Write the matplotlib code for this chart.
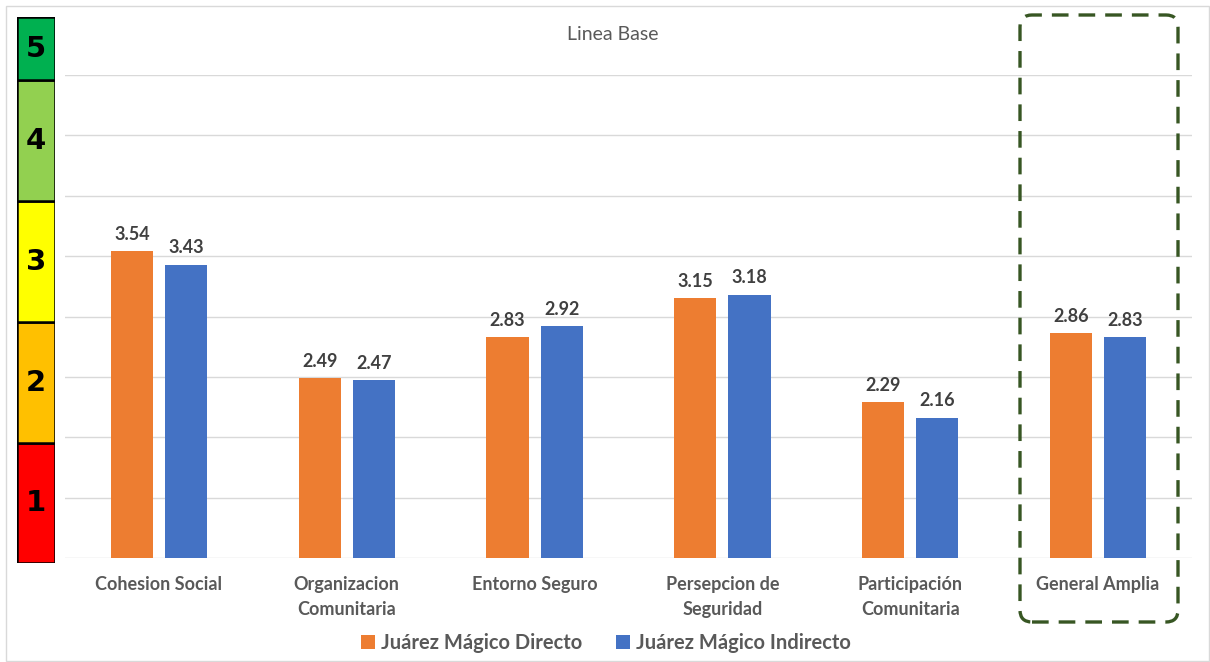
import matplotlib.pyplot as plt
import numpy as np
from matplotlib.patches import FancyBboxPatch, Rectangle

plt.rcParams['font.family'] = ['Lato', 'DejaVu Sans']

categories = ['Cohesion Social', 'Organizacion\nComunitaria', 'Entorno Seguro',
              'Persepcion de\nSeguridad', 'Participación\nComunitaria', 'General Amplia']
directo = [3.54, 2.49, 2.83, 3.15, 2.29, 2.86]
indirecto = [3.43, 2.47, 2.92, 3.18, 2.16, 2.83]
series_names = ['Juárez Mágico Directo', 'Juárez Mágico Indirecto']

scale_levels = ['1', '2', '3', '4', '5']
scale_colors = ['#FF0000', '#FFC000', '#FFFF00', '#92D050', '#00B050']

W, H = 1210, 662
fig = plt.figure(figsize=(W / 100, H / 100), dpi=100)

# outer frame
fig.patches.append(Rectangle((6 / W, 1 / H), (W - 7) / W, (H - 7) / H, transform=fig.transFigure,
                             fill=False, edgecolor='#D9D9D9', lw=1))

# main bar chart
ax = fig.add_axes([65 / W, (H - 558) / H, (1192 - 65) / W, (558 - 75) / H])
index = np.arange(len(categories))
w = 0.224
off = 0.144
b1 = ax.bar(index - off, np.array(directo) - 1, w, bottom=1, color='#ED7D31', label=series_names[0], zorder=3)
b2 = ax.bar(index + off, np.array(indirecto) - 1, w, bottom=1, color='#4472C4', label=series_names[1], zorder=3)
for bars, vals in ((b1, directo), (b2, indirecto)):
    for rect, v in zip(bars, vals):
        ax.text(rect.get_x() + rect.get_width() / 2, v + 0.07, '%.2f' % v, ha='center', va='bottom',
                fontsize=13, fontweight='bold', color='#404040')
ax.set_xlim(-0.5, len(categories) - 0.5)
ax.set_ylim(1, 5)
ax.set_yticks(np.arange(1, 5.01, 0.5))
ax.set_yticklabels([])
ax.grid(axis='y', color='#D9D9D9', lw=1, zorder=0)
ax.set_xticks(index)
ax.set_xticklabels(categories, fontsize=13, fontweight='bold', color='#595959', linespacing=1.55)
ax.tick_params(length=0, pad=13)
for s in ax.spines.values():
    s.set_visible(False)

fig.text(613 / W, 1 - 35 / H, 'Linea Base', ha='center', va='center', fontsize=14, color='#595959')

fig.legend(handles=[b1, b2], labels=series_names, loc='center', bbox_to_anchor=(606 / W, 1 - 643 / H),
           ncol=2, frameon=False, handlelength=0.7, handleheight=0.7, handletextpad=0.3,
           columnspacing=1.7, prop={'size': 14.5, 'weight': 'bold'}, labelcolor='#595959')

# colour scale on the left (pixel coordinates)
ax_s = fig.add_axes([17 / W, (H - 563) / H, 38 / W, (563 - 17) / H])
bounds = [563, 443, 322, 201, 80, 17]
for i, (lab, col) in enumerate(zip(scale_levels, scale_colors)):
    ax_s.bar(0, bounds[i + 1] - bounds[i], 1, bottom=bounds[i], color=col, edgecolor='black', lw=1.8)
    ax_s.text(0, (bounds[i] + bounds[i + 1]) / 2, lab, ha='center', va='center',
              fontsize=21, fontweight='bold', color='black', family=['DejaVu Sans'])
ax_s.set_xlim(-0.5, 0.5)
ax_s.set_ylim(563, 17)
ax_s.axis('off')

# dashed highlight around the last group
fig.patches.append(FancyBboxPatch((10.20, 0.40), 1.58, 6.07, boxstyle='round,pad=0,rounding_size=0.12',
                                  transform=fig.dpi_scale_trans, fill=False, edgecolor='#375623',
                                  lw=2.4, linestyle=(0, (5, 3))))

fig.savefig('out.png', dpi=100)
